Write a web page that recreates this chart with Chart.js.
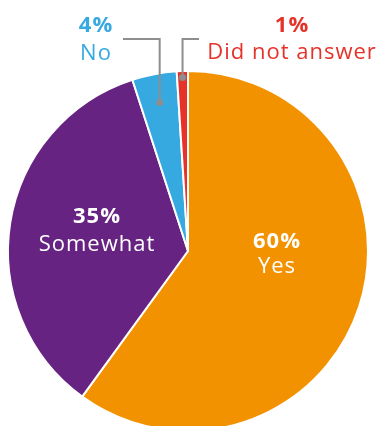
<!DOCTYPE html>
<html>
<head>
<meta charset="utf-8">
<script src="https://cdn.jsdelivr.net/npm/chart.js@4"></script>
<style>
  html, body { margin: 0; padding: 0; background: #fff; overflow: hidden; }
  #wrap { width: 379px; height: 426px; overflow: hidden; }
</style>
</head>
<body>
<div id="wrap"><canvas id="myChart" width="379" height="440"></canvas></div>
<script>
var answers = ["Yes", "Somewhat", "No", "Did not answer"];
var shares = [60, 35, 4, 1];
var colours = ["#F39200", "#662382", "#36A9E1", "#E6332A"];

// where each label sits (baseline of the % line): inside the slice or up top with an elbow line
var labelSpots = [
    {x: 277, y: 248, gap: 25, inside: true},
    {x: 97, y: 223, gap: 28, inside: true},
    {x: 96, y: 32, gap: 28, elbowY: 39, lineTo: 123, dotR: 0.84},
    {x: 292, y: 32, gap: 27, elbowY: 39, lineTo: 199, dotR: 0.965}
];

var labelPlugin = {
    id: 'labels',
    afterDraw: function(chart) {
        var ctx = chart.ctx;
        var arcs = chart.getDatasetMeta(0).data;
        ctx.save();
        arcs.forEach(function(arc, i) {
            var spot = labelSpots[i];
            var txtColour = spot.inside ? '#ffffff' : colours[i];
            if (!spot.inside) {
                var mid = (arc.startAngle + arc.endAngle) / 2;
                var r = arc.outerRadius * spot.dotR;
                var dx = arc.x + Math.cos(mid) * r;
                var dy = arc.y + Math.sin(mid) * r;
                ctx.strokeStyle = '#8E8E8E';
                ctx.lineWidth = 2;
                ctx.beginPath();
                ctx.moveTo(dx, dy);
                ctx.lineTo(dx, spot.elbowY);
                ctx.lineTo(spot.lineTo, spot.elbowY);
                ctx.stroke();
                ctx.fillStyle = '#8E8E8E';
                ctx.beginPath();
                ctx.arc(dx, dy, 3.5, 0, Math.PI * 2);
                ctx.fill();
            }
            ctx.fillStyle = txtColour;
            ctx.textAlign = 'center';
            ctx.textBaseline = 'alphabetic';
            ctx.letterSpacing = '1px';
            ctx.font = 'bold 22px "Open Sans"';
            ctx.fillText(shares[i] + '%', spot.x, spot.y);
            ctx.font = '22px "Open Sans"';
            ctx.fillText(answers[i], spot.x, spot.y + spot.gap);
        });
        ctx.restore();
    }
};

var ctx = document.getElementById("myChart").getContext('2d');
var myPie = new Chart(ctx, {
    type: 'pie',
    data: {
        labels: answers,
        datasets: [{
            data: shares,
            backgroundColor: colours,
            borderColor: '#ffffff',
            borderWidth: 2
        }]
    },
    options: {
        responsive: false,
        animation: false,
        radius: 180,
        layout: {padding: {left: 9, right: 12, top: 72, bottom: 10}},
        plugins: {
            legend: {display: false},
            tooltip: {enabled: false}
        }
    },
    plugins: [labelPlugin]
});
</script>
</body>
</html>
